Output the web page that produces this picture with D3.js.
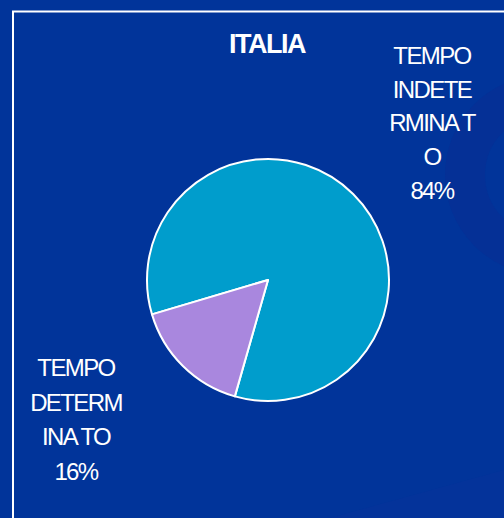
<!DOCTYPE html>
<html>
<meta charset="utf-8">
<script src="https://d3js.org/d3.v7.js"></script>
<style>
  body { margin: 0; background: #01349a; }
  text { font-family: "Liberation Sans", Arial, sans-serif; fill: #ffffff; }
</style>
<body>
<div id="chart"></div>
<script>
    // data
    var categories = ["TEMPO INDETERMINATO", "TEMPO DETERMINATO"];
    var shares = [84, 16];
    var labelLines = [
        ["TEMPO", "INDETE", "RMINA T", "O", "84%"],
        ["TEMPO", "DETERM", "INA TO", "16%"]
    ];
    var title = "ITALIA";

    var width = 504, height = 518;
    var cx = 268, cy = 280, radius = 121;

    var svg = d3.select("#chart").append("svg")
        .attr("width", width)
        .attr("height", height);

    // background
    svg.append("rect").attr("width", width).attr("height", height).attr("fill", "#01349a");

    // faint decoration on the right
    svg.append("circle")
        .attr("cx", 545).attr("cy", 175).attr("r", 80)
        .attr("fill", "none").attr("stroke", "#053096").attr("stroke-width", 40);
    svg.append("path")
        .attr("d", "M330,518 L504,470 L504,518 Z")
        .attr("fill", "#04339a");

    // frame
    svg.append("path")
        .attr("d", "M13,518 L13,11.5 L504,11.5")
        .attr("fill", "none")
        .attr("stroke", "#ffffff")
        .attr("stroke-width", 2);

    // title
    svg.append("text")
        .attr("x", 267).attr("y", 53)
        .attr("text-anchor", "middle")
        .style("font-size", "27px")
        .style("font-weight", "bold")
        .style("letter-spacing", "-1.5px")
        .text(title);

    var color = d3.scaleOrdinal()
        .domain(categories)
        .range(["#009dcc", "#a987de"]);

    var startDeg = 253.5;
    var pie = d3.pie()
        .sort(null)
        .value(function (d) { return d; })
        .startAngle(startDeg * Math.PI / 180)
        .endAngle((startDeg + 360) * Math.PI / 180);

    var arc = d3.arc().innerRadius(0).outerRadius(radius);

    var g = svg.append("g").attr("transform", "translate(" + cx + "," + cy + ")");

    g.selectAll("path.slice")
        .data(pie(shares))
        .enter()
        .append("path")
        .attr("class", "slice")
        .attr("d", arc)
        .attr("fill", function (d, i) { return color(categories[i]); })
        .attr("stroke", "#ffffff")
        .attr("stroke-width", 2)
        .attr("stroke-linejoin", "round");

    // labels
    var labelPos = [
        { x: 432, y: 64, step: 33.7 },
        { x: 76, y: 376, step: 34.6 }
    ];

    labelLines.forEach(function (lines, i) {
        var t = svg.append("text")
            .attr("text-anchor", "middle")
            .style("font-size", "24px")
            .style("letter-spacing", "-1.6px");
        lines.forEach(function (line, j) {
            t.append("tspan")
                .attr("x", labelPos[i].x)
                .attr("y", labelPos[i].y + j * labelPos[i].step)
                .text(line);
        });
    });
</script>
</body>
</html>
